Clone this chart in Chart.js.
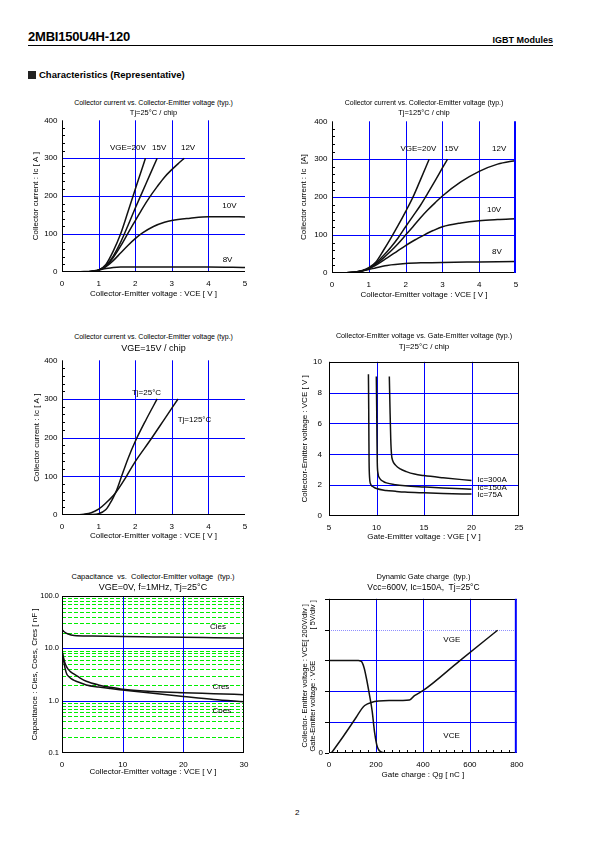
<!DOCTYPE html>
<html><head><meta charset="utf-8">
<script src="https://cdn.jsdelivr.net/npm/chart.js@4.4.1/dist/chart.umd.min.js"></script>
<style>
html,body{margin:0;padding:0;background:#fff;}
body{width:595px;height:842px;position:relative;overflow:hidden;font-family:"Liberation Sans",Arial,Helvetica,sans-serif;color:#000;}
.abs{position:absolute;white-space:pre;}
canvas{position:absolute;}
</style></head><body>
<div class="abs" style="left:28px;top:29px;font-size:13px;font-weight:bold;letter-spacing:-0.2px;">2MBI150U4H-120</div>
<div class="abs" style="right:42px;top:35px;font-size:9px;font-weight:bold;">IGBT Modules</div>
<div style="position:absolute;left:28px;top:45px;width:525px;height:1px;background:#000"></div>
<div style="position:absolute;left:28px;top:71px;width:8px;height:8px;background:#222"></div>
<div class="abs" style="left:39px;top:69px;font-size:9.5px;font-weight:bold;">Characteristics (Representative)</div>
<div class="abs" style="left:295px;top:808px;font-size:8px;">2</div>
<script>
// ---------------- DATA ----------------
// Chart 1: Ic vs VCE, Tj=25°C  [VCE (V), Ic (A)]
const t25_vge20 = [[0.3,0],[0.6,0.5],[0.8,1.5],[1.0,5],[1.2,20],[1.4,55],[1.6,100],[1.8,158],[1.94,200],[2.1,247],[2.28,300]];
const t25_vge15 = [[0.3,0],[0.6,0.5],[0.8,1.5],[1.0,5],[1.2,17],[1.4,42],[1.6,78],[1.8,122],[2.0,168],[2.2,212],[2.4,256],[2.6,300]];
const t25_vge12 = [[0.3,0],[0.6,0.5],[0.8,1.5],[1.0,5],[1.2,15],[1.4,38],[1.6,68],[1.8,102],[2.0,135],[2.2,168],[2.4,198],[2.6,225],[2.8,250],[3.0,270],[3.2,288],[3.34,300]];
const t25_vge10 = [[0.3,0],[0.6,0.5],[0.8,1.5],[1.0,5],[1.2,14],[1.4,30],[1.6,50],[1.8,70],[2.0,88],[2.2,103],[2.5,120],[2.8,131],[3.0,136],[3.5,142],[4.0,146],[4.5,146],[5.0,145]];
const t25_vge8  = [[0.3,0],[0.6,1],[0.8,2],[1.0,5],[1.2,9],[1.4,12],[1.6,13],[2.0,13],[3.0,13],[4.0,13],[5.0,12]];
const t25_labels = ['VGE=20V','15V','12V','10V','8V'];

// Chart 2: Ic vs VCE, Tj=125°C
const t125_vge20 = [[0,0],[0.4,0.5],[0.6,2],[0.8,6],[1.0,14],[1.2,30],[1.4,60],[1.6,92],[1.8,126],[2.0,162],[2.2,200],[2.4,245],[2.64,300]];
const t125_vge15 = [[0,0],[0.4,0.5],[0.6,2],[0.8,5],[1.0,13],[1.2,27],[1.4,46],[1.6,68],[1.8,93],[2.0,122],[2.2,150],[2.4,178],[2.6,210],[2.8,243],[3.0,277],[3.14,300]];
const t125_vge12 = [[0,0],[0.4,0.5],[0.6,2],[0.8,5],[1.0,12],[1.2,24],[1.4,40],[1.6,58],[1.8,78],[2.0,100],[2.2,122],[2.4,145],[2.6,166],[2.8,185],[3.0,203],[3.5,240],[4.0,268],[4.5,287],[5.0,297]];
const t125_vge10 = [[0,0],[0.4,0.5],[0.6,2],[0.8,5],[1.0,11],[1.25,24],[1.5,40],[1.75,56],[2.0,72],[2.25,87],[2.5,100],[2.75,112],[3.0,122],[3.5,132],[4.0,138],[4.5,141],[5.0,143]];
const t125_vge8  = [[0,0],[0.4,0.5],[0.6,2],[0.8,5],[1.0,9],[1.2,14],[1.5,20],[2.0,25],[2.5,27],[3.0,28],[4.0,29],[5.0,30]];
const t125_labels = ['VGE=20V','15V','12V','10V','8V'];

// Chart 3: Ic vs VCE, VGE=15V
const vge15_tj25  = [[0.3,0],[0.6,0.5],[0.8,1],[1.0,3],[1.2,14],[1.3,28],[1.4,45],[1.5,66],[1.62,98],[1.8,145],[2.0,190],[2.3,247],[2.6,300]];
const vge15_tj125 = [[0.4,0],[0.6,2],[0.8,6],[1.0,15],[1.2,31],[1.46,57],[1.76,100],[2.0,138],[2.4,192],[2.8,248],[3.17,300]];
const vge15_labels = ['Tj=25°C','Tj=125°C'];

// Chart 4: VCE vs VGE, Tj=25°C  [VGE (V), VCE (V)]
const ic75  = [[9.15,9.2],[9.18,7],[9.2,5],[9.22,3.5],[9.27,2.5],[9.4,2.05],[9.7,1.88],[10,1.78],[11,1.66],[12,1.6],[13,1.55],[15,1.5],[17,1.46],[20,1.42]];
const ic150 = [[9.98,9.05],[10.02,7],[10.05,5],[10.08,3.5],[10.15,2.8],[10.33,2.45],[10.7,2.25],[11.04,2.15],[12,2.03],[13,1.96],[15,1.88],[17,1.81],[20,1.74]];
const ic300 = [[11.35,9.05],[11.42,7],[11.5,5],[11.58,4],[11.7,3.6],[12.0,3.3],[12.5,3.05],[13.14,2.88],[14,2.72],[15,2.62],[17,2.48],[20,2.3]];
const ic_labels = ['Ic=300A','Ic=150A','Ic=75A'];

// Chart 5: Capacitance vs VCE  [VCE (V), C (nF)]
const cies = [[0,22.5],[0.3,21],[0.6,19.8],[1,18.8],[1.5,18],[2,17.6],[5,17.2],[10,16.8],[15,16.5],[20,16.2],[25,16],[30,15.8]];
const cres = [[0,8.5],[0.2,7],[0.5,5.2],[1,4],[1.5,3.5],[2,3.2],[3,2.7],[4,2.35],[6,2.0],[8,1.8],[10,1.65],[15,1.5],[20,1.42],[25,1.36],[30,1.3]];
const coes = [[0,9.5],[0.2,6.5],[0.5,4.2],[0.8,3.2],[1.1,2.9],[1.5,2.65],[2,2.45],[3,2.2],[4,2.0],[6,1.82],[8,1.7],[10,1.6],[15,1.38],[20,1.2],[25,1.05],[30,0.95]];
const cap_labels = ['Cies','Cres','Coes'];
const cap_ticks = [0.1,1,10,100];

// Chart 6: Dynamic gate charge  [Qg (nC), VCE (V)] / [Qg (nC), VGE (V)]
const qg_vce = [[0,600],[125,600],[135,596],[142,585],[150,550],[160,480],[172,380],[184,270],[194,135],[203,55],[210,25],[218,10],[230,3],[250,0]];
const qg_vge = [[10,0],[59,2.6],[116,5.8],[140,7.2],[152,7.7],[180,8.2],[258,8.5],[343,8.6],[364,9.3],[400,10.1],[555,14.9],[718,19.9]];
const qg_labels = ['VGE','VCE'];

// ---------------- RENDER ----------------
const FONT = '"Liberation Sans", Arial, Helvetica, sans-serif';
Chart.defaults.font.family = FONT;
Chart.defaults.color = '#000';
const BLUE = '#0000ff', BLACK = '#000000', GREEN = '#00ee00';

const framePlugin = {
  id: 'frame',
  beforeDatasetsDraw(chart, args, o) {
    const {ctx, chartArea: a, scales} = chart;
    ctx.save();
    (o.lines || []).forEach(g => {
      const sc = scales[g.axis];
      ctx.strokeStyle = g.color; ctx.lineWidth = g.width || 1; ctx.setLineDash(g.dash || []);
      g.values.forEach(v => {
        const p = Math.round(sc.getPixelForValue(v)) + 0.5;
        ctx.beginPath();
        if (sc.isHorizontal()) { ctx.moveTo(p, a.top); ctx.lineTo(p, a.bottom); }
        else { ctx.moveTo(a.left, p); ctx.lineTo(a.right, p); }
        ctx.stroke();
      });
    });
    ctx.restore();
  },
  afterDatasetsDraw(chart, args, o) {
    const {ctx, chartArea: a, scales} = chart;
    ctx.save();
    ctx.setLineDash([]);
    const b = o.borders || {};
    const L = Math.round(a.left) + 0.5, T = Math.round(a.top) + 0.5, B = Math.round(a.bottom) - 0.5;
    const seg = (s, x1, y1, x2, y2) => { if (!s) return; ctx.strokeStyle = s.c; ctx.lineWidth = s.w || 1; ctx.beginPath(); ctx.moveTo(x1, y1); ctx.lineTo(x2, y2); ctx.stroke(); };
    seg(b.top, a.left, T, a.right, T);
    seg(b.bottom, a.left, B, a.right, B);
    seg(b.left, L, a.top, L, a.bottom);
    if (b.right) seg(b.right, a.right - (b.right.w || 1) / 2, a.top, a.right - (b.right.w || 1) / 2, a.bottom);
    (o.minor || []).forEach(m => {
      const sc = scales[m.axis];
      ctx.strokeStyle = BLACK; ctx.lineWidth = 1;
      const n = Math.round((sc.max - sc.min) / m.step);
      for (let i = 0; i <= n; i++) {
        const v = sc.min + i * m.step;
        if (m.skip && Math.abs(v / m.skip - Math.round(v / m.skip)) < 1e-6) continue;
        const p = Math.round(sc.getPixelForValue(v)) + 0.5;
        ctx.beginPath();
        if (sc.isHorizontal()) {
          if (m.dir === 'in') { ctx.moveTo(p, a.bottom); ctx.lineTo(p, a.bottom - m.len); }
          else { ctx.moveTo(p, a.bottom); ctx.lineTo(p, a.bottom + m.len); }
        } else {
          if (m.dir === 'in') { ctx.moveTo(a.left, p); ctx.lineTo(a.left + m.len, p); }
          else { ctx.moveTo(a.left, p); ctx.lineTo(a.left - m.len, p); }
        }
        ctx.stroke();
      }
    });
    ctx.fillStyle = BLACK;
    ctx.font = (o.labelSize || 8) + 'px ' + FONT;
    ctx.textBaseline = 'middle'; ctx.textAlign = 'left';
    (o.labels || []).forEach(l => {
      ctx.fillText(l.text, scales.x.getPixelForValue(l.x), scales[l.yAxis || 'y'].getPixelForValue(l.y));
    });
    ctx.restore();
  }
};

function addText(txt, cx, cy, size) {
  const d = document.createElement('div');
  d.className = 'abs'; d.textContent = txt;
  d.style.fontSize = size + 'px'; d.style.lineHeight = (size * 1.2) + 'px';
  d.style.left = (cx - 200) + 'px'; d.style.width = '400px'; d.style.textAlign = 'center';
  d.style.top = (cy - size * 0.6) + 'px';
  document.body.appendChild(d);
}

function makeChart(def) {
  const ML = 44, MT = 8, MR = 12, MB = 30;
  const p = def.plot;
  const W = p.r - p.l + ML + MR, H = p.b - p.t + MT + MB;
  const cv = document.createElement('canvas');
  cv.width = W; cv.height = H;
  cv.style.left = (p.l - ML) + 'px'; cv.style.top = (p.t - MT) + 'px';
  cv.style.width = W + 'px'; cv.style.height = H + 'px';
  document.body.appendChild(cv);
  def.titles.forEach(t => addText(t[0], (p.l + p.r) / 2 + (t[3] || 0), t[1], t[2]));

  const ds = def.series.map(s => ({
    data: s.data.map(q => ({x: q[0], y: q[1]})),
    yAxisID: s.axis || 'y',
    showLine: true, borderColor: '#111', borderWidth: 1.5, pointRadius: 0,
    cubicInterpolationMode: 'monotone', fill: false
  }));
  const yx = def.y;
  const scales = {
    x: {
      type: 'linear', min: def.x.min, max: def.x.max,
      grid: {display: false, drawTicks: false}, border: {display: false},
      ticks: {stepSize: def.x.step, font: {size: 8}, color: '#000', padding: 6.5, maxRotation: 0, autoSkip: false},
      title: {display: true, text: def.x.title, font: {size: 8, lineHeight: 1.2}, color: '#000', padding: {top: 0, bottom: def.x.pb}},
      afterFit: s => { s.height = MB; }
    },
    y: {
      type: yx.type || 'linear', min: yx.min, max: yx.max,
      grid: {display: false, drawTicks: false}, border: {display: false},
      ticks: {stepSize: yx.step, font: {size: yx.tickSize || 8}, color: '#000', padding: yx.tp || 4.5, autoSkip: false,
              callback: yx.cb || (v => String(v))},
      title: {display: true, text: yx.title, font: {size: yx.titleSize || 8, lineHeight: yx.titleLH || 1.2}, color: '#000', padding: {top: yx.pt, bottom: 0}},
      afterFit: s => { s.width = ML; }
    }
  };
  if (yx.ticksList) scales.y.afterBuildTicks = s => { s.ticks = yx.ticksList.map(v => ({value: v})); };
  if (def.y1) scales.y1 = {type: 'linear', display: false, min: def.y1.min, max: def.y1.max};
  new Chart(cv.getContext('2d'), {
    type: 'scatter',
    data: {datasets: ds},
    options: {
      responsive: false, animation: false, devicePixelRatio: 1, events: [],
      layout: {padding: {left: 0, top: MT, right: MR, bottom: 0}},
      plugins: {legend: {display: false}, tooltip: {enabled: false}, frame: def.frame},
      scales
    },
    plugins: [framePlugin]
  });
}

const T1 = 'Collector current vs. Collector-Emitter voltage (typ.)';

// Chart 1
makeChart({
  plot: {l: 62, t: 119, r: 245, b: 272},
  titles: [[T1, 103, 7], ['Tj=25°C / chip', 112, 7.5]],
  x: {min: 0, max: 5, step: 1, title: 'Collector-Emitter voltage : VCE [ V ]', pb: 3.9},
  y: {min: 0, max: 400, step: 100, title: 'Collector current : Ic [ A ]', pt: 12.9},
  series: [{data: t25_vge20}, {data: t25_vge15}, {data: t25_vge12}, {data: t25_vge10}, {data: t25_vge8}],
  frame: {
    lines: [{axis: 'x', values: [1, 2, 3, 4], color: BLUE}, {axis: 'y', values: [100, 200, 300], color: BLUE}],
    borders: {left: {c: BLACK}, bottom: {c: BLACK}},
    minor: [{axis: 'y', step: 20, len: 3, dir: 'in', skip: 100}],
    labels: [
      {text: t25_labels[0], x: 1.31, y: 328}, {text: t25_labels[1], x: 2.46, y: 328}, {text: t25_labels[2], x: 3.25, y: 328},
      {text: t25_labels[3], x: 4.38, y: 175}, {text: t25_labels[4], x: 4.39, y: 31}
    ]
  }
});

// Chart 2
makeChart({
  plot: {l: 332, t: 120, r: 516, b: 273},
  titles: [[T1, 103, 7], ['Tj=125°C / chip', 112, 7.5]],
  x: {min: 0, max: 5, step: 1, title: 'Collector-Emitter voltage : VCE [ V ]', pb: 3.9},
  y: {min: 0, max: 400, step: 100, title: 'Collector current : Ic  [A]', pt: 11.2},
  series: [{data: t125_vge20}, {data: t125_vge15}, {data: t125_vge12}, {data: t125_vge10}, {data: t125_vge8}],
  frame: {
    lines: [{axis: 'x', values: [1, 2, 3, 4], color: BLUE}, {axis: 'y', values: [100, 200, 300], color: BLUE}],
    borders: {left: {c: BLACK}, bottom: {c: BLACK}, right: {c: BLUE, w: 2}},
    minor: [{axis: 'y', step: 20, len: 3, dir: 'in', skip: 100}],
    labels: [
      {text: t125_labels[0], x: 1.86, y: 328}, {text: t125_labels[1], x: 3.05, y: 328}, {text: t125_labels[2], x: 4.35, y: 328},
      {text: t125_labels[3], x: 4.21, y: 166}, {text: t125_labels[4], x: 4.35, y: 57}
    ]
  }
});

// Chart 3
makeChart({
  plot: {l: 62, t: 359, r: 245, b: 515},
  titles: [[T1, 337.5, 7], ['VGE=15V / chip', 348.5, 9]],
  x: {min: 0, max: 5, step: 1, title: 'Collector-Emitter voltage : VCE [ V ]', pb: 4.2},
  y: {min: 0, max: 400, step: 100, title: 'Collector current : Ic [ A ]', pt: 13.9},
  series: [{data: vge15_tj25}, {data: vge15_tj125}],
  frame: {
    lines: [{axis: 'x', values: [1, 2, 3, 4], color: BLUE}, {axis: 'y', values: [100, 200, 300], color: BLUE}],
    borders: {left: {c: BLACK}, bottom: {c: BLACK}},
    minor: [{axis: 'y', step: 20, len: 3, dir: 'in', skip: 100}],
    labels: [{text: vge15_labels[0], x: 1.91, y: 317}, {text: vge15_labels[1], x: 3.16, y: 246}]
  }
});

// Chart 4
makeChart({
  plot: {l: 329, t: 358, r: 519, b: 516},
  titles: [['Collector-Emitter voltage vs. Gate-Emitter voltage (typ.)', 336.5, 7.2], ['Tj=25°C / chip', 347, 8]],
  x: {min: 5, max: 25, step: 5, title: 'Gate-Emitter voltage : VGE [ V ]', pb: 4.5},
  y: {min: 0, max: 10, step: 2, title: 'Collector-Emitter voltage : VCE [ V ]', pt: 15.2, tp: 7},
  series: [{data: ic75}, {data: ic150}, {data: ic300}],
  frame: {
    lines: [{axis: 'x', values: [10, 15, 20], color: BLUE}, {axis: 'y', values: [2, 4, 6, 8], color: BLUE}],
    borders: {left: {c: BLACK}, bottom: {c: BLACK}, top: {c: BLACK}, right: {c: BLACK}},
    labels: [{text: ic_labels[0], x: 20.6, y: 2.33}, {text: ic_labels[1], x: 20.6, y: 1.84}, {text: ic_labels[2], x: 20.6, y: 1.36}]
  }
});

// Chart 5
const minorCap = [0.2,0.3,0.4,0.5,0.6,0.7,0.8,0.9,2,3,4,5,6,7,8,9,20,30,40,50,60,70,80,90];
makeChart({
  plot: {l: 62, t: 596, r: 244, b: 753},
  titles: [['Capacitance  vs.  Collector-Emitter voltage  (typ.)', 576.5, 7.5], ['VGE=0V, f=1MHz, Tj=25°C', 587, 9]],
  x: {min: 0, max: 30, step: 10, title: 'Collector-Emitter voltage : VCE [ V ]', pb: 6.5},
  y: {type: 'logarithmic', min: 0.1, max: 100, ticksList: cap_ticks, cb: v => Number(v).toFixed(1), tickSize: 7.5, tp: 3,
      title: 'Capacitance : Cies, Coes, Cres [ nF ]', pt: 12.2},
  series: [{data: cies}, {data: cres}, {data: coes}],
  frame: {
    lines: [{axis: 'y', values: minorCap, color: GREEN, dash: [4, 2]},
            {axis: 'x', values: [10, 20], color: BLUE}, {axis: 'y', values: [1, 10], color: BLUE}],
    borders: {left: {c: BLACK}, bottom: {c: BLACK}, top: {c: BLACK}, right: {c: BLACK}},
    labels: [{text: cap_labels[0], x: 24.4, y: 26}, {text: cap_labels[1], x: 24.8, y: 1.81}, {text: cap_labels[2], x: 24.8, y: 0.65}]
  }
});

// Chart 6
makeChart({
  plot: {l: 329, t: 596, r: 518, b: 753},
  titles: [['Dynamic Gate charge  (typ.)', 576.5, 7.5], ['Vcc=600V, Ic=150A,  Tj=25°C', 587, 8.5]],
  x: {min: 0, max: 800, step: 200, title: 'Gate charge : Qg [ nC ]', pb: 3.2},
  y: {min: 0, max: 1000, step: 200, cb: v => (v === 0 ? '0' : ''), tp: 6,
      title: ['Collector- Emitter voltage : VCE[ 200V/div ]', 'Gate-Emitter voltage : VGE               [ 5V/div ]'],
      titleSize: 7.5, titleLH: 1.03, pt: 16.1},
  y1: {min: 0, max: 25},
  series: [{data: qg_vce}, {data: qg_vge, axis: 'y1'}],
  frame: {
    lines: [{axis: 'x', values: [200, 400, 600], color: BLUE}, {axis: 'y', values: [200, 400, 600], color: BLUE},
            {axis: 'y', values: [800], color: '#9090ff', dash: [1, 1]}],
    borders: {left: {c: BLACK}, bottom: {c: BLACK}, top: {c: BLACK}, right: {c: BLUE, w: 2}},
    minor: [{axis: 'x', step: 200 / 6, len: 3, dir: 'in', skip: 200}, {axis: 'y', step: 200, len: 4, dir: 'out'}],
    labels: [{text: qg_labels[0], x: 487, y: 736}, {text: qg_labels[1], x: 487, y: 110}]
  }
});
</script>
</body></html>
